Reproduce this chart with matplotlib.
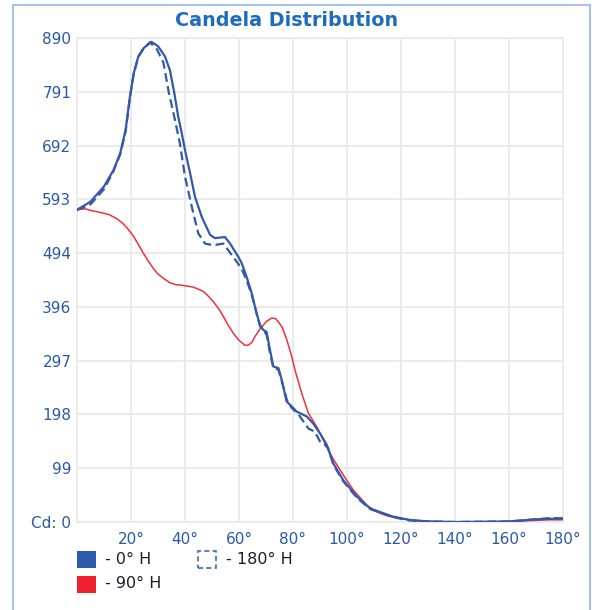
import matplotlib
matplotlib.use("Agg")
import matplotlib.pyplot as plt
from matplotlib.lines import Line2D
from matplotlib.patches import Rectangle
import numpy as np

# ---- data ----
deg_0h = [0, 5, 10, 13.5, 16, 18, 19.6, 21, 22.7, 24.6, 27.5, 30, 32.6, 34.4, 36, 37.5, 38.8, 40, 41.9,
          43.7, 46.2, 49.3, 51.1, 54.8, 56.7, 59.7, 61, 62.8, 64.7, 66.5, 67.8, 69, 70.2, 71.5, 72.7, 74.6,
          75.8, 77.6, 81.4, 85.1, 87.5, 90, 92.5, 94.9, 98.6, 103.6, 108.5, 113.5, 117, 123, 130, 140, 150,
          160, 165, 170, 175, 180]
cd_0h = [574, 589, 617, 647, 678, 721, 782, 825, 856, 871, 883, 875, 856, 831, 790, 745, 715, 684, 641,
         598, 561, 528, 522, 524, 512, 488, 476, 451, 421, 384, 362, 353, 350, 316, 286, 283,
         262, 222, 203, 194, 181, 163, 142, 108, 77, 47, 25, 16, 10, 4, 1, 0, 0.5,
         1, 3, 5, 6, 6]

deg_180h = [0, 5, 10, 13.5, 16, 18, 19.6, 21, 22.7, 24.6, 27, 29.5, 32, 34, 36.3, 38.1, 40, 42.5, 44.9,
            47.4, 50.5, 54.2, 57.3, 59.1, 61, 62.8, 64.7, 66.5, 67.8, 69, 70.2, 71.5, 72.7, 74.6,
            75.8, 77.7, 79.5, 82, 84.4, 85.7, 86.9, 88.1, 90, 91.2, 93, 95, 98.6, 103.6, 108.5, 113.5, 117,
            123, 130, 140, 150, 160, 165, 170, 175, 180]
cd_180h = [574, 584, 612, 645, 676, 718, 780, 824, 855, 870, 882, 870, 845, 790, 739, 696, 635, 580, 531,
           512, 509, 512, 491, 479, 465, 445, 418, 384, 360, 352, 345, 310, 284, 280,
           260, 225, 210, 198, 181, 172, 169, 166, 148, 145, 136, 105, 75, 45, 24, 15, 9,
           3, 1, 0, 0.5, 1, 3, 5, 7, 7]

deg_90h = [0, 3, 5, 8, 12, 15, 17, 19, 21, 23, 24.6, 26.5, 28.3, 30, 32, 34.4, 36.9, 38, 41.8, 43, 45,
           46.8, 48.5, 50.5, 52.5, 54.2, 56, 57.9, 60, 62.2, 63.4, 64.7, 65.9, 67.8, 69, 70.2, 72.1, 73.5,
           74.6, 76, 77.7, 79.5, 80.7, 82, 83.2, 85.7, 88.8, 92.5, 95, 97.4, 100, 102.3, 105, 107.3, 110,
           112.2, 115.9, 120, 125, 130, 140, 150, 160, 170, 175, 180]
cd_90h = [574, 576, 573, 570, 565, 557, 549, 538, 525, 508, 494, 479, 466, 456, 448, 440, 436, 436, 433,
          432, 428, 424, 416, 405, 392, 378, 362, 347, 334, 325, 325, 330, 341, 355, 362, 369, 375, 374,
          368, 358, 335, 305, 280, 258, 237, 200, 175, 138, 115, 96, 76, 59, 44, 31, 22,
          16, 10, 6, 3, 1, 0, 0, 1, 3, 4, 4]

y_max = 890
y_tick_labels = ["Cd: 0", "99", "198", "297", "396", "494", "593", "692", "791", "890"]
x_ticks = [20, 40, 60, 80, 100, 120, 140, 160, 180]
x_tick_labels = ["20°", "40°", "60°", "80°", "100°", "120°", "140°", "160°", "180°"]
legend_labels = ["- 0° H", "- 180° H", "- 90° H"]

BLUE = "#3558a8"
RED = "#f0303c"
TICK_COL = "#2a58a8"

W, H = 598, 610
fig = plt.figure(figsize=(W / 100, H / 100), dpi=100)
fig.patch.set_facecolor("white")

ax = fig.add_axes([77 / W, 1 - 522 / H, 486 / W, 484 / H])
ax.set_xlim(0, 180)
ax.set_ylim(0, y_max)

ax.plot(deg_90h, cd_90h, color=RED, lw=1.1, zorder=3)
ax.plot(deg_180h, cd_180h, color=BLUE, lw=1.6, ls=(0, (4, 2)), zorder=4)
ax.plot(deg_0h, cd_0h, color=BLUE, lw=1.6, zorder=5)

yt = np.linspace(0, y_max, 10)
ax.set_yticks(yt)
ax.set_yticklabels(y_tick_labels)
ax.set_xticks(x_ticks)
ax.set_xticklabels(x_tick_labels)
ax.tick_params(axis="both", length=0, labelsize=11, colors=TICK_COL, pad=4)
ax.tick_params(axis="x", pad=7)
ax.grid(True, color="#ebebeb", lw=1.5, zorder=0)
ax.set_axisbelow(True)
for s in ax.spines.values():
    s.set_color("#ebebeb")
    s.set_linewidth(1.5)

# title
fig.text(287 / W, 1 - 21 / H, "Candela Distribution", ha="center", va="center",
         fontsize=13.8, fontweight="bold", color="#1f6cbc")

# outer frame
fc = "#a9c1e3"
fig.add_artist(Line2D([13 / W, 13 / W], [0, 1 - 5 / H], transform=fig.transFigure, color=fc, lw=1.5))
fig.add_artist(Line2D([13 / W, 590 / W], [1 - 5 / H, 1 - 5 / H], transform=fig.transFigure, color=fc, lw=1.5))
fig.add_artist(Line2D([590 / W, 590 / W], [0, 1 - 5 / H], transform=fig.transFigure, color=fc, lw=1.5))

# legend
def fig_rect(x0, y0, x1, y1, **kw):
    r = Rectangle((x0 / W, 1 - y1 / H), (x1 - x0) / W, (y1 - y0) / H, transform=fig.transFigure, **kw)
    fig.add_artist(r)

fig_rect(77, 551, 96, 568, facecolor="#2c5cab", edgecolor="none")
fig.text(105 / W, 1 - 560 / H, legend_labels[0], ha="left", va="center", fontsize=11.5, color="#1c1c2c")
fig_rect(198, 551, 216, 568, facecolor="none", edgecolor="#3a68b8", lw=1.2, ls=(0, (3, 2)))
fig.text(226 / W, 1 - 560 / H, legend_labels[1], ha="left", va="center", fontsize=11.5, color="#1c1c2c")
fig_rect(77, 576, 96, 593, facecolor="#ee2230", edgecolor="none")
fig.text(105 / W, 1 - 584 / H, legend_labels[2], ha="left", va="center", fontsize=11.5, color="#1c1c2c")

fig.savefig("out.png", dpi=100)
